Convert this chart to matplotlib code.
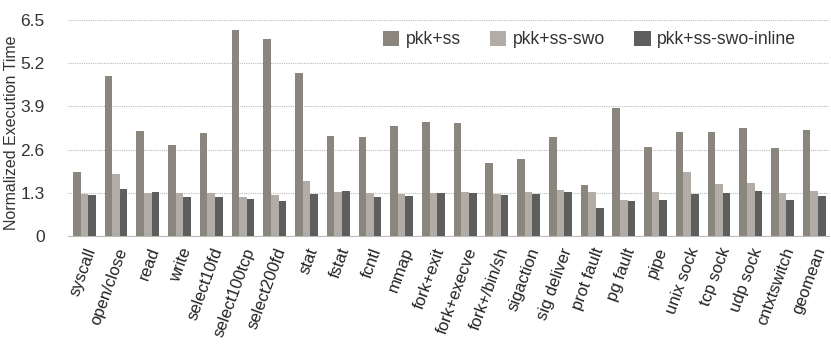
import numpy as np
import matplotlib.pyplot as plt

plt.rcParams['font.family'] = ['Liberation Sans', 'DejaVu Sans']

# data
benchmarks = ['syscall', 'open/close', 'read', 'write', 'select10fd', 'select100tcp',
              'select200fd', 'stat', 'fstat', 'fcntl', 'mmap', 'fork+exit',
              'fork+execve', 'fork+/bin/sh', 'sigaction', 'sig deliver', 'prot fault',
              'pg fault', 'pipe', 'unix sock', 'tcp sock', 'udp sock', 'cntxtswitch',
              'geomean']
pkk_ss = [1.94, 4.82, 3.15, 2.73, 3.09, 6.20, 5.94, 4.89, 3.02, 2.99, 3.31, 3.44,
          3.41, 2.19, 2.33, 2.99, 1.54, 3.85, 2.69, 3.12, 3.12, 3.25, 2.66, 3.19]
pkk_ss_swo = [1.26, 1.87, 1.29, 1.29, 1.29, 1.16, 1.22, 1.65, 1.32, 1.29, 1.26, 1.29,
              1.32, 1.26, 1.32, 1.39, 1.32, 1.09, 1.32, 1.94, 1.55, 1.58, 1.29, 1.36]
pkk_ss_swo_inline = [1.22, 1.42, 1.32, 1.16, 1.16, 1.12, 1.06, 1.26, 1.36, 1.16, 1.19,
                     1.29, 1.29, 1.22, 1.26, 1.32, 0.83, 1.06, 1.09, 1.26, 1.29, 1.36,
                     1.09, 1.19]
yticks = [0, 1.3, 2.6, 3.9, 5.2, 6.5]

series = [('pkk+ss', pkk_ss, '#8a867e'),
          ('pkk+ss-swo', pkk_ss_swo, '#b1ada6'),
          ('pkk+ss-swo-inline', pkk_ss_swo_inline, '#5e5e5e')]

fig = plt.figure(figsize=(8.31, 3.44), dpi=100)
ax = fig.add_axes([0.082, 0.314, 0.915, 0.628])

x = np.arange(len(benchmarks))
w = 0.24
for k, (name, vals, col) in enumerate(series):
    ax.bar(x + (k - 1) * w, vals, width=w, color=col, label=name, zorder=3)

ax.set_ylim(0, 6.5)
ax.set_xlim(-0.51, len(benchmarks) - 1 + 0.45)
ax.set_yticks(yticks)
ax.set_yticklabels(['0', '1.3', '2.6', '3.9', '5.2', '6.5'], fontsize=12.5, color='#333333')
ax.yaxis.grid(True, linestyle=(0, (1, 1)), color='#bbbbbb', linewidth=0.8, zorder=0)
ax.set_ylabel('Normalized Execution Time', fontsize=11.5, color='#333333')
ax.yaxis.set_label_coords(-0.064, 0.48)

ax.set_xticks(x)
ax.set_xticklabels(benchmarks, rotation=70, ha='right', rotation_mode='anchor',
                   fontsize=12, color='#222222')
ax.tick_params(axis='x', length=0, pad=7)
ax.tick_params(axis='y', length=0, pad=17)

for s in ['top', 'right', 'left']:
    ax.spines[s].set_visible(False)
ax.spines['bottom'].set_color('#bbbbbb')

ax.legend(loc='upper left', ncol=3, frameon=False, fontsize=12.7,
          bbox_to_anchor=(0.414, 0.95), borderaxespad=0, borderpad=0,
          handlelength=0.92, handleheight=0.92, handletextpad=0.38,
          columnspacing=1.65, labelcolor='#333333')

fig.savefig('out.png', dpi=100)
